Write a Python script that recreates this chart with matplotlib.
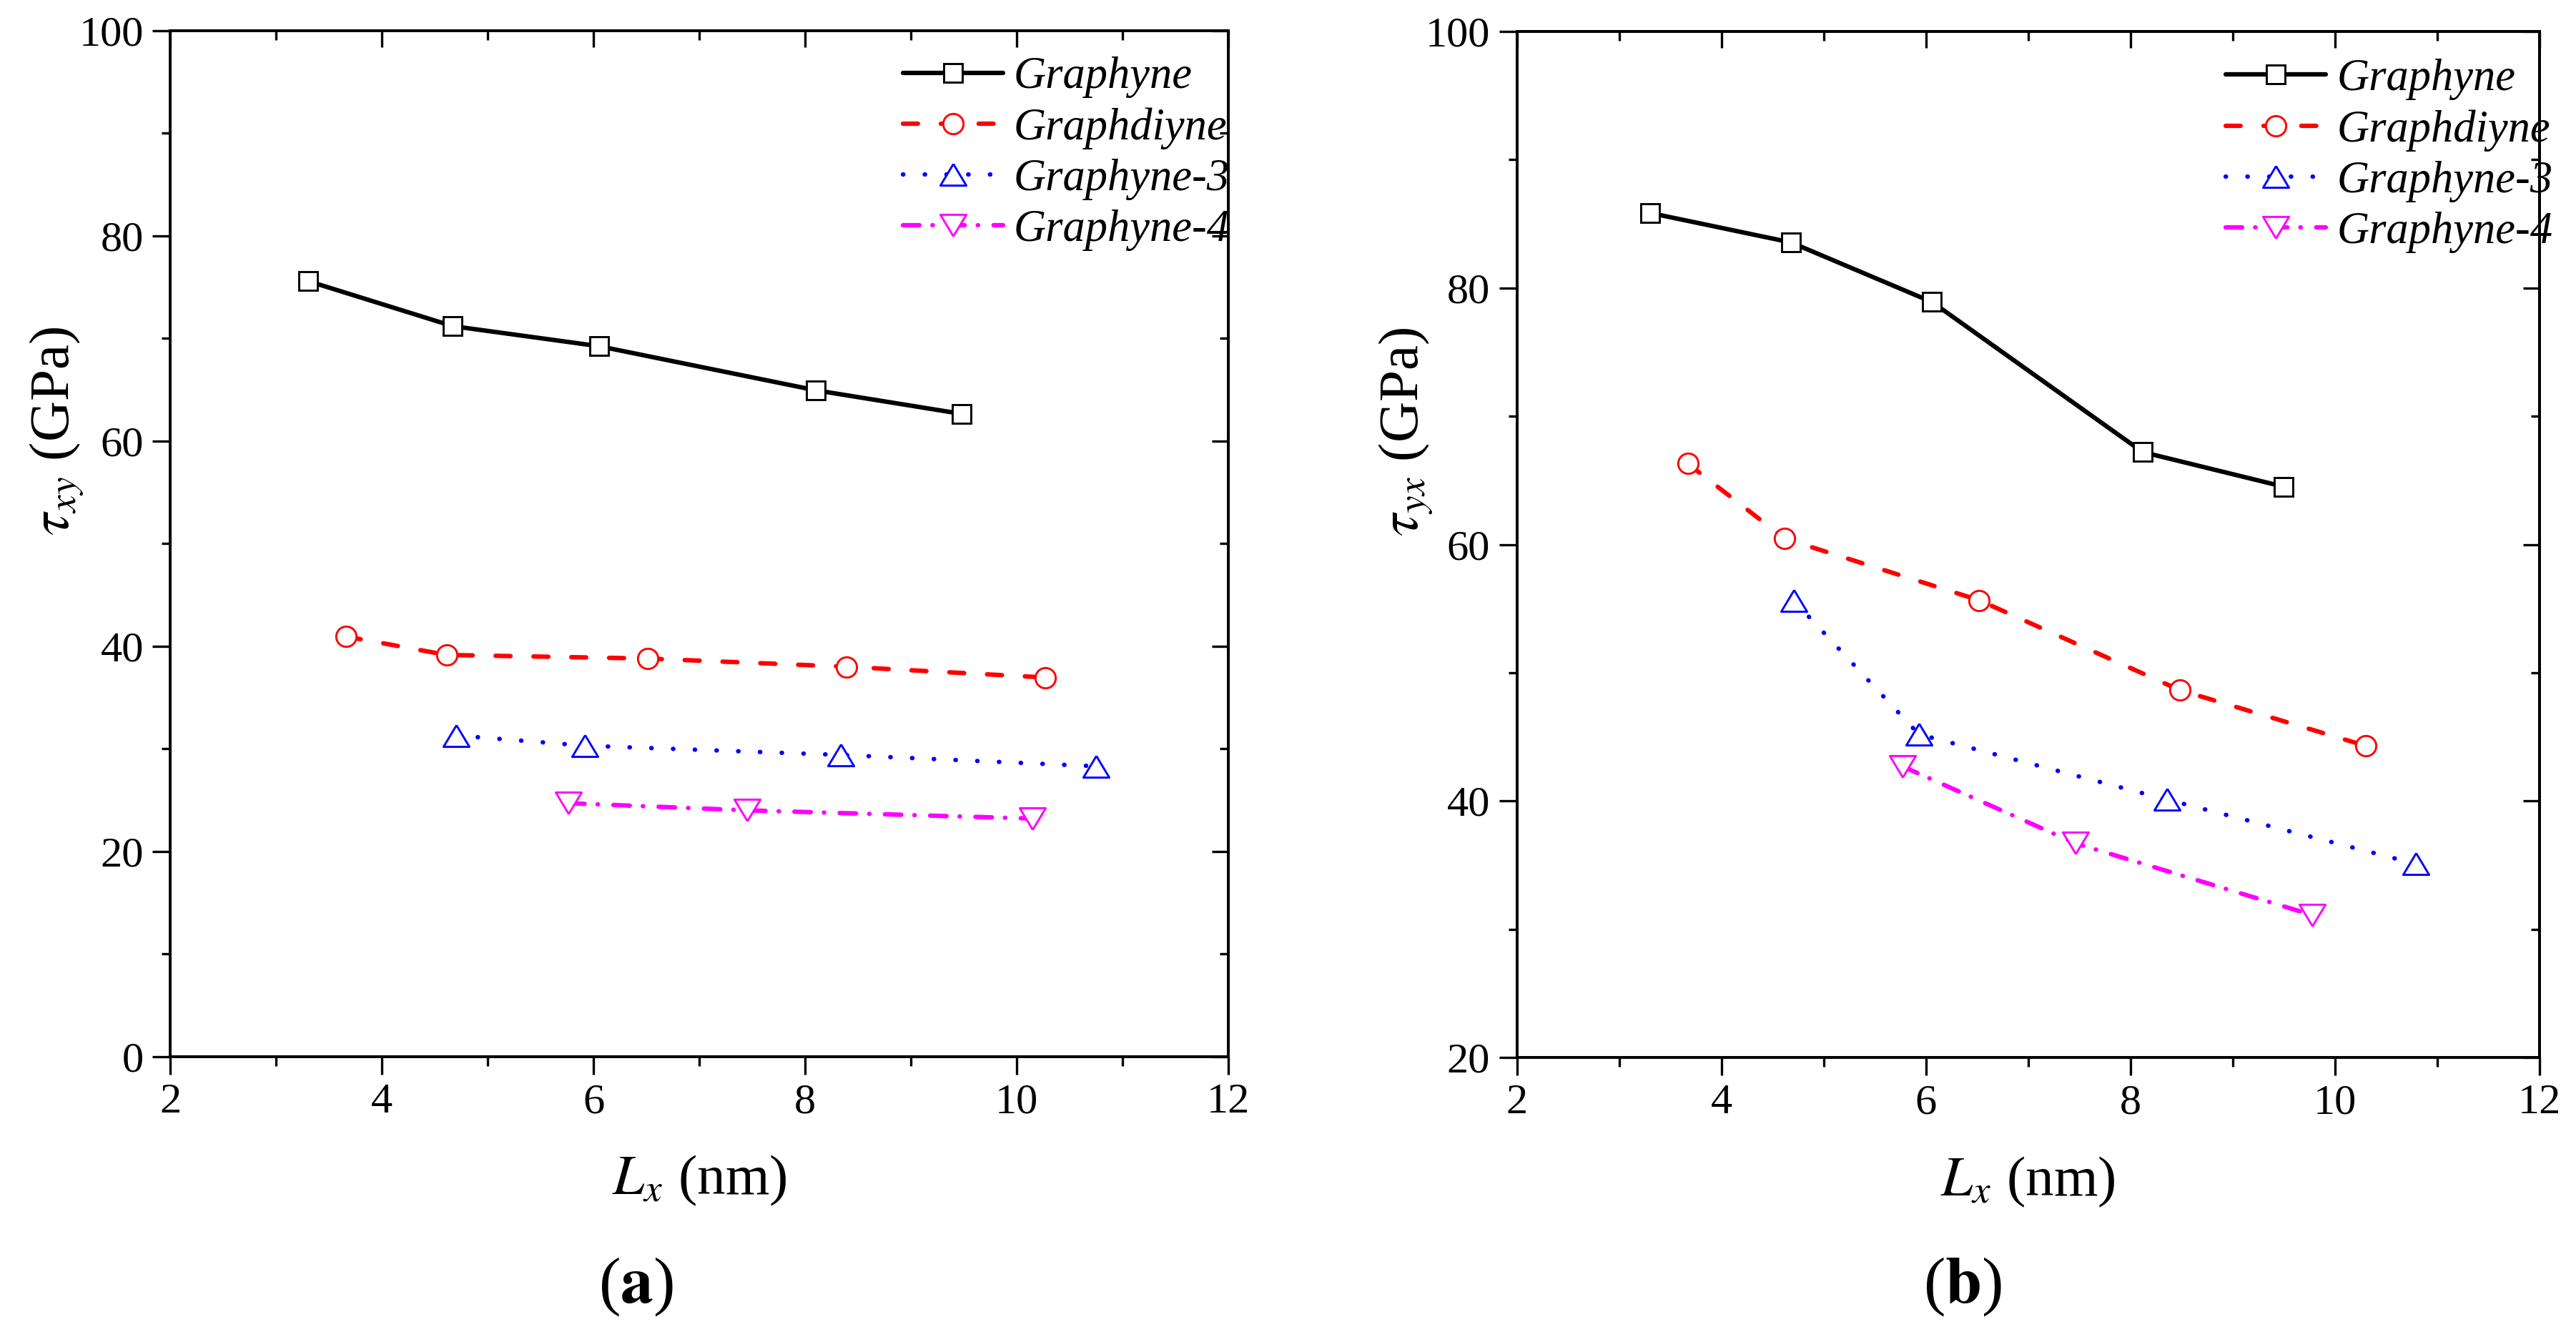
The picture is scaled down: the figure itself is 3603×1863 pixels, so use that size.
import matplotlib
matplotlib.use("Agg")
import matplotlib.pyplot as plt
from matplotlib.ticker import MultipleLocator, NullFormatter

plt.rcParams['font.family'] = ['Liberation Serif', 'DejaVu Serif']
plt.rcParams['mathtext.fontset'] = 'stix'
plt.rcParams['lines.scale_dashes'] = False

# ---------------- data ----------------
series_names = ['Graphyne', 'Graphdiyne', 'Graphyne-3', 'Graphyne-4']

# panel (a): tau_xy
a_graphyne_x = [3.30, 4.67, 6.05, 8.10, 9.48]
a_graphyne_y = [75.6, 71.2, 69.25, 64.95, 62.65]
a_graphdiyne_x = [3.66, 4.61, 6.51, 8.39, 10.27]
a_graphdiyne_y = [40.95, 39.15, 38.8, 38.0, 36.95]
a_graphyne3_x = [4.70, 5.92, 8.34, 10.75]
a_graphyne3_y = [31.3, 30.3, 29.4, 28.3]
a_graphyne4_x = [5.76, 7.45, 10.15]
a_graphyne4_y = [24.7, 24.0, 23.2]

# panel (b): tau_yx
b_graphyne_x = [3.30, 4.68, 6.06, 8.12, 9.50]
b_graphyne_y = [85.85, 83.55, 78.9, 67.2, 64.5]
b_graphdiyne_x = [3.67, 4.62, 6.52, 8.48, 10.30]
b_graphdiyne_y = [66.3, 60.45, 55.65, 48.65, 44.3]
b_graphyne3_x = [4.71, 5.93, 8.36, 10.79]
b_graphyne3_y = [55.6, 45.2, 40.1, 35.1]
b_graphyne4_x = [5.77, 7.46, 9.78]
b_graphyne4_y = [42.7, 36.7, 31.1]

x_ticks = [2, 4, 6, 8, 10, 12]
a_y_ticks = [0, 20, 40, 60, 80, 100]
b_y_ticks = [20, 40, 60, 80, 100]

# ---------------- styles ----------------
up_tri = [(0, 1), (-1.2, -1), (1.2, -1), (0, 1)]
down_tri = [(0, -1), (-1.2, 1), (1.2, 1), (0, -1)]
styles = [
    dict(color='black', linestyle='-', marker='s', markersize=6.3),
    dict(color='#FF0000', linestyle=(0, (5.0, 7.7)), marker='o', markersize=6.8),
    dict(color='#0000FF', linestyle=(0, (0.1, 7.2)), marker=up_tri, markersize=8.7),
    dict(color='#FF00FF', linestyle=(0, (5.5, 4.4, 0.1, 5.2)), marker=down_tri, markersize=8.7),
]

fig = plt.figure(figsize=(3603 / 300, 1863 / 300), dpi=300)
axA = fig.add_axes([0.06614, 0.20682, 0.41069, 0.77010])
axB = fig.add_axes([0.58887, 0.20612, 0.39698, 0.77026])


def draw(ax, data, yticks, ylim, ylabel, leg_anchor):
    for (x, y), name, st in zip(data, series_names, styles):
        ax.plot(x, y, label=name, linewidth=1.5, markerfacecolor='white',
                markeredgecolor=st['color'], markeredgewidth=0.7,
                dash_capstyle='round', solid_capstyle='round', **st)
    ax.set_xlim(2, 12)
    ax.set_ylim(*ylim)
    ax.set_xticks(x_ticks)
    ax.set_yticks(yticks)
    ax.xaxis.set_minor_locator(MultipleLocator(1))
    ax.yaxis.set_minor_locator(MultipleLocator(10))
    ax.tick_params(which='both', direction='out', top=False, right=False,
                   width=0.8, labelsize=14.5, pad=3)
    ax.tick_params(which='major', length=6)
    ax.tick_params(which='minor', length=3)
    for s in ax.spines.values():
        s.set_linewidth(0.95)
    # inward ticks on top and right
    sx = ax.secondary_xaxis('top')
    sx.set_xticks(x_ticks)
    sx.xaxis.set_minor_locator(MultipleLocator(1))
    sx.xaxis.set_major_formatter(NullFormatter())
    sx.tick_params(which='both', direction='in', width=0.8)
    sx.tick_params(which='major', length=5.6)
    sx.tick_params(which='minor', length=3)
    sx.spines['top'].set_linewidth(0.95)
    sy = ax.secondary_yaxis('right')
    sy.set_yticks(yticks)
    sy.yaxis.set_minor_locator(MultipleLocator(10))
    sy.yaxis.set_major_formatter(NullFormatter())
    sy.tick_params(which='both', direction='in', width=0.8)
    sy.tick_params(which='major', length=5.6)
    sy.tick_params(which='minor', length=3)
    sy.spines['right'].set_linewidth(0.95)

    ax.set_xlabel(r'$L_x$ (nm)', fontsize=19)
    ax.xaxis.set_label_coords(0.5, -0.095)
    ax.set_ylabel(ylabel, fontsize=19)
    ax.yaxis.set_label_coords(-0.08, 0.61)

    leg = ax.legend(loc='upper left', bbox_to_anchor=leg_anchor, frameon=False,
                    prop={'style': 'italic', 'size': 15},
                    handlelength=2.24, handletextpad=0.24, labelspacing=0.21,
                    borderpad=0, borderaxespad=0, numpoints=1)
    return leg


draw(axA, [(a_graphyne_x, a_graphyne_y), (a_graphdiyne_x, a_graphdiyne_y),
           (a_graphyne3_x, a_graphyne3_y), (a_graphyne4_x, a_graphyne4_y)],
     a_y_ticks, (0, 100), r'$\tau_{xy}$ (GPa)', (0.6924, 0.9746))
draw(axB, [(b_graphyne_x, b_graphyne_y), (b_graphdiyne_x, b_graphdiyne_y),
           (b_graphyne3_x, b_graphyne3_y), (b_graphyne4_x, b_graphyne4_y)],
     b_y_ticks, (20, 100), r'$\tau_{yx}$ (GPa)', (0.6932, 0.9734))

fig.text(889 / 3603, 1 - 1800 / 1863, r'($\mathbf{a}$)', ha='center', va='center', fontsize=22)
fig.text(2745 / 3603, 1 - 1800 / 1863, r'($\mathbf{b}$)', ha='center', va='center', fontsize=22)

fig.savefig('out.png', dpi=300)
